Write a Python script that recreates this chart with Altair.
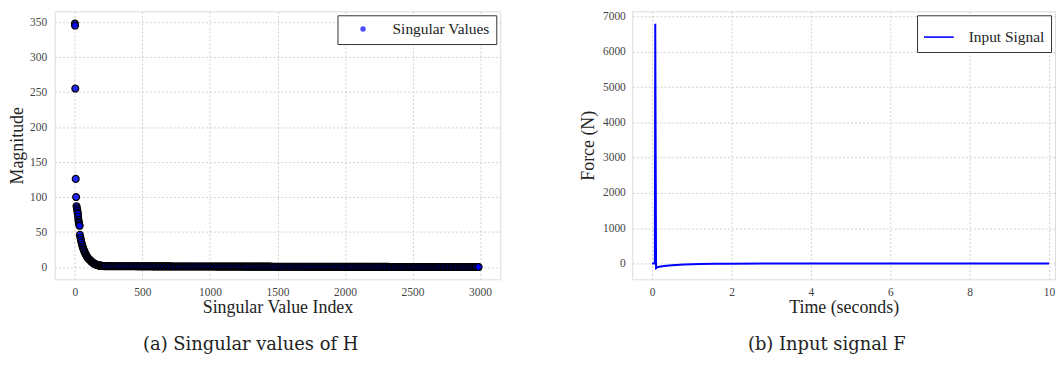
import altair as alt
import pandas as pd

# ---------------- Singular values (panel a) ----------------
head_idx = [0, 1, 3, 6, 9, 12, 15, 18, 20, 22, 24, 26, 28, 30, 33, 35]
head_val = [348, 345, 255, 126, 100, 87, 84, 81, 78, 76, 72, 68, 65, 63, 60, 59]

curve_idx = list(range(37, 218, 4))
curve_val = [46, 42, 38.5, 35, 32, 29.5, 27, 25, 23, 21,
             19.5, 18, 16.5, 15, 14, 13, 12, 11.2, 10.5, 9.8,
             9, 8.2, 7.5, 6.8, 6.2, 5.6, 5.1, 4.7, 4.3, 3.9,
             3.6, 3.3, 3.0, 2.8, 2.6, 2.4, 2.2, 2.1, 2.0, 1.9,
             1.8, 1.7, 1.6, 1.55, 1.5, 1.45]

tail_idx = list(range(220, 3001, 10))
tail_val = [1.4, 1.4, 1.4, 1.4, 1.3, 1.3, 1.3, 1.3, 1.3, 1.3, 1.3, 1.3, 1.3, 1.2, 1.2, 1.2, 1.2, 1.2, 1.2, 1.2,
            1.2, 1.2, 1.2, 1.2, 1.1, 1.1, 1.1, 1.1, 1.1, 1.1, 1.1, 1.1, 1.1, 1.1, 1.1, 1.1, 1.0, 1.0, 1.0, 1.0,
            1.0, 1.0, 1.0, 1.0, 1.0, 1.0, 1.0, 1.0, 1.0, 1.0, 0.9, 0.9, 0.9, 0.9, 0.9, 0.9, 0.9, 0.9, 0.9, 0.9,
            0.9, 0.9, 0.9, 0.9, 0.9, 0.8, 0.8, 0.8, 0.8, 0.8, 0.8, 0.8, 0.8, 0.8, 0.8, 0.8, 0.8, 0.8, 0.8, 0.8,
            0.8, 0.8, 0.7, 0.7, 0.7, 0.7, 0.7, 0.7, 0.7, 0.7, 0.7, 0.7, 0.7, 0.7, 0.7, 0.7, 0.7, 0.7, 0.7, 0.7,
            0.7, 0.7, 0.6, 0.6, 0.6, 0.6, 0.6, 0.6, 0.6, 0.6, 0.6, 0.6, 0.6, 0.6, 0.6, 0.6, 0.6, 0.6, 0.6, 0.6,
            0.6, 0.6, 0.6, 0.6, 0.5, 0.5, 0.5, 0.5, 0.5, 0.5, 0.5, 0.5, 0.5, 0.5, 0.5, 0.5, 0.5, 0.5, 0.5, 0.5,
            0.5, 0.5, 0.5, 0.5, 0.5, 0.5, 0.5, 0.5, 0.5, 0.4, 0.4, 0.4, 0.4, 0.4, 0.4, 0.4, 0.4, 0.4, 0.4, 0.4,
            0.4, 0.4, 0.4, 0.4, 0.4, 0.4, 0.4, 0.4, 0.4, 0.4, 0.4, 0.4, 0.4, 0.4, 0.4, 0.4, 0.4, 0.4, 0.3, 0.3,
            0.3, 0.3, 0.3, 0.3, 0.3, 0.3, 0.3, 0.3, 0.3, 0.3, 0.3, 0.3, 0.3, 0.3, 0.3, 0.3, 0.3, 0.3, 0.3, 0.3,
            0.3, 0.3, 0.3, 0.3, 0.3, 0.3, 0.3, 0.3, 0.3, 0.3, 0.3, 0.2, 0.2, 0.2, 0.2, 0.2, 0.2, 0.2, 0.2, 0.2,
            0.2, 0.2, 0.2, 0.2, 0.2, 0.2, 0.2, 0.2, 0.2, 0.2, 0.2, 0.2, 0.2, 0.2, 0.2, 0.2, 0.2, 0.2, 0.2, 0.2,
            0.2, 0.2, 0.2, 0.2, 0.2, 0.2, 0.2, 0.2, 0.2, 0.1, 0.1, 0.1, 0.1, 0.1, 0.1, 0.1, 0.1, 0.1, 0.1, 0.1,
            0.1, 0.1, 0.1, 0.1, 0.1, 0.1, 0.1, 0.1, 0.1, 0.1, 0.1, 0.1, 0.1, 0.1, 0.1, 0.1, 0.1, 0.05]

sv_x_ticks = [0, 500, 1000, 1500, 2000, 2500, 3000]
sv_y_ticks = [0, 50, 100, 150, 200, 250, 300, 350]

# ---------------- Input signal (panel b) ----------------
time_s = [0.0, 0.04, 0.07, 0.08, 0.10, 0.15, 0.3, 0.5, 0.8, 1.2, 1.6, 2.0, 3.0, 4.0, 5.0, 6.0, 7.0, 8.0, 9.0, 10.0]
force_n = [0, 0, 0, 6790, -130, -95, -70, -48, -30, -15, -7, -3, -1, 0, 0, 0, 0, 0, 0, 0]

sig_x_ticks = [0, 2, 4, 6, 8, 10]
sig_y_ticks = [0, 1000, 2000, 3000, 4000, 5000, 6000, 7000]

SERIF = "Liberation Serif"
CAP_SERIF = "DejaVu Serif"

n_tail = min(len(tail_idx), len(tail_val))
sv_df = pd.DataFrame({
    "idx": head_idx + curve_idx + tail_idx[:n_tail],
    "val": head_val + curve_val + tail_val[:n_tail],
})
sv_df["series"] = "Singular Values"

sig_df = pd.DataFrame({"t": time_s, "f": force_n})
sig_df["series"] = "Input Signal"

axis_common = dict(
    grid=True, gridColor="#c4c4c4", gridDash=[2, 2], gridWidth=0.8,
    ticks=False, domain=False, format="d",
    labelFont=SERIF, labelFontSize=11.5, labelColor="#444",
    titleFont=SERIF, titleFontSize=18, titleFontWeight="normal", titleColor="#222",
)

legend_common = dict(
    title=None, orient="top-right", offset=4,
    labelFont=SERIF, labelFontSize=15.5, labelColor="#222",
    strokeColor="#333", fillColor="white", padding=6, cornerRadius=0,
)

cap_style = dict(orient="bottom", font=CAP_SERIF, fontSize=18, fontWeight="normal",
                 color="#222", offset=20, anchor="middle")

left = alt.Chart(sv_df).mark_circle(
    size=48, stroke="black", strokeWidth=1.2, fillOpacity=0.85, strokeOpacity=1.0
).encode(
    x=alt.X("idx:Q", title="Singular Value Index",
            scale=alt.Scale(domain=[-150, 3150], nice=False, zero=False),
            axis=alt.Axis(values=sv_x_ticks, labelPadding=7, titlePadding=1, **axis_common)),
    y=alt.Y("val:Q", title="Magnitude",
            scale=alt.Scale(domain=[-17.4, 365.4], nice=False, zero=False),
            axis=alt.Axis(values=sv_y_ticks, labelPadding=8, titlePadding=3, **axis_common)),
    color=alt.Color("series:N", scale=alt.Scale(range=["#0000ff"]),
                    legend=alt.Legend(symbolType="circle", symbolSize=30, symbolOpacity=0.7,
                                      symbolStrokeWidth=0, symbolOffset=12, labelOffset=22,
                                      **legend_common)),
).properties(
    width=449, height=270,
    title=alt.TitleParams("(a) Singular values of H", dx=-27, **cap_style),
)

right = alt.Chart(sig_df).mark_line(strokeWidth=2, clip=True).encode(
    x=alt.X("t:Q", title="Time (seconds)",
            scale=alt.Scale(domain=[-0.5, 10.15], nice=False, zero=False),
            axis=alt.Axis(values=sig_x_ticks, labelPadding=7, titlePadding=1, **axis_common)),
    y=alt.Y("f:Q", title="Force (N)",
            scale=alt.Scale(domain=[-445, 7145], nice=False, zero=False),
            axis=alt.Axis(values=sig_y_ticks, labelPadding=7, titlePadding=5, **axis_common)),
    color=alt.Color("series:N", scale=alt.Scale(range=["#0000ff"]),
                    legend=alt.Legend(symbolType="stroke", symbolSize=900, symbolStrokeWidth=1.6,
                                      symbolOffset=0, labelOffset=14, **legend_common)),
).properties(
    width=426, height=270,
    title=alt.TitleParams("(b) Input signal F", dx=-17, **cap_style),
)

chart = alt.hconcat(left, right, spacing=78).resolve_scale(color="independent").properties(
    padding=0
).configure_view(
    stroke="#222", strokeWidth=1.3
).configure(background="white")

chart.save("out.html", embed_options={"renderer": "svg", "actions": False})
